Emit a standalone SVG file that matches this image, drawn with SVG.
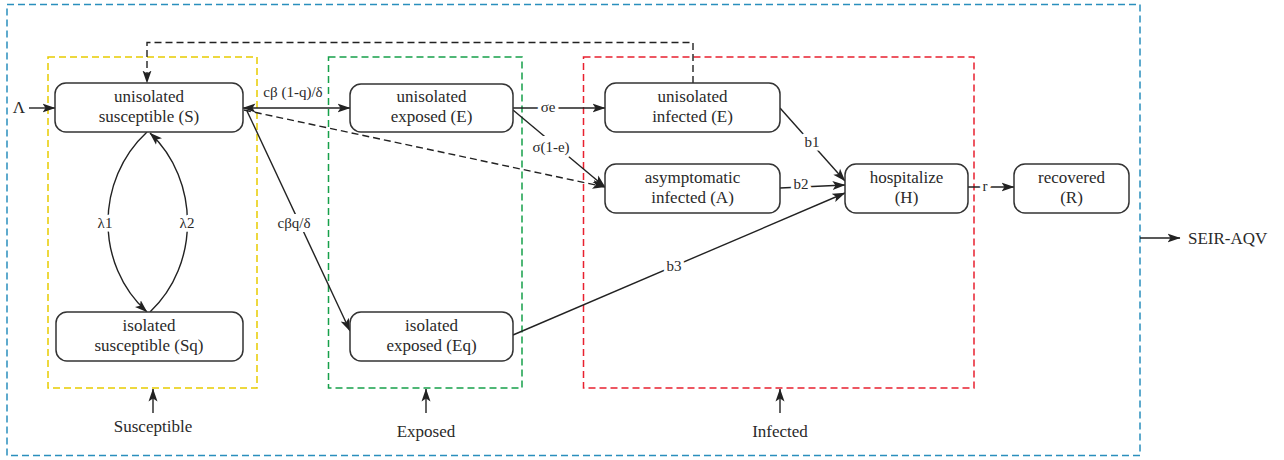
<svg xmlns="http://www.w3.org/2000/svg" width="1284" height="460" viewBox="0 0 1284 460">
<defs>
<marker id="ah" markerUnits="userSpaceOnUse" markerWidth="13" markerHeight="10" viewBox="0 0 13 10" refX="12.5" refY="5" orient="auto-start-reverse">
<path d="M0,0.5 L13,5 L0,9.5 L3,5 z" fill="#222"/>
</marker>
<style>
.grp{fill:none;stroke-width:1.5;stroke-dasharray:7 4}
.node rect{fill:#fff;stroke:#333;stroke-width:1.5}
text{font-family:'Liberation Serif','Times New Roman','DejaVu Serif',serif;fill:#2a2a2a;text-anchor:middle}
.node text{font-size:17px}
.ln{fill:none;stroke:#222;stroke-width:1.4}
.dash{stroke-dasharray:7 4}
.lbl{font-size:15px;stroke:#fff;stroke-width:7px;paint-order:stroke;stroke-linejoin:round}
.cap{font-size:17px}
</style>
</defs>
<rect width="1284" height="460" fill="#fff"/>
<g id="groups">
<rect class="grp" x="7" y="4.5" width="1133" height="451" stroke="#2a8fbd"/>
<rect class="grp" x="48" y="57" width="209" height="331" stroke="#e8cc00"/>
<rect class="grp" x="328.5" y="57" width="193.5" height="331" stroke="#16a04a"/>
<rect class="grp" x="583.5" y="57" width="390.5" height="331" stroke="#e8202f"/>
</g>
<g id="connectors">
<path class="ln" d="M29,108 L55,108" marker-end="url(#ah)"/>
<path class="ln" d="M243,108 L350,108" marker-start="url(#ah)" marker-end="url(#ah)"/>
<path class="ln dash" d="M244,110 L605,187" marker-end="url(#ah)"/>
<path class="ln" d="M247,111 L350,331" marker-end="url(#ah)"/>
<path class="ln" d="M513,108 L605,108" marker-end="url(#ah)"/>
<path class="ln" d="M513,110 L605,187" marker-end="url(#ah)"/>
<path class="ln" d="M780,108 L845,181" marker-end="url(#ah)"/>
<path class="ln" d="M780,188 L845,185" marker-end="url(#ah)"/>
<path class="ln" d="M513,335 L845,193" marker-end="url(#ah)"/>
<path class="ln" d="M968,187 L1014,187" marker-end="url(#ah)"/>
<path class="ln dash" d="M693,83 L693,42.5 L147,42.5 L147,83" marker-end="url(#ah)"/>
<path class="ln" d="M147,132 C95,180 95,265 147,312" marker-end="url(#ah)"/>
<path class="ln" d="M150,312 C200,265 200,180 150,133" marker-end="url(#ah)"/>
<path class="ln" d="M1140,238 L1180,238" marker-end="url(#ah)"/>
<path class="ln" d="M153,413 L153,389" marker-end="url(#ah)"/>
<path class="ln" d="M426,413 L426,389" marker-end="url(#ah)"/>
<path class="ln" d="M780,413 L780,389" marker-end="url(#ah)"/>
<rect x="529" y="136" width="45" height="20" fill="#fff"/>
<rect x="274" y="214" width="40" height="18" fill="#fff"/>
<text class="lbl" x="19" y="113" style="font-size:17px">Λ</text>
<text class="lbl" x="293" y="97">cβ (1-q)/δ</text>
<text class="lbl" x="294" y="228">cβq/δ</text>
<text class="lbl" x="548" y="112">σe</text>
<text class="lbl" x="551" y="152">σ(1-e)</text>
<text class="lbl" x="812" y="147">b1</text>
<text class="lbl" x="801" y="189">b2</text>
<text class="lbl" x="674" y="271">b3</text>
<text class="lbl" x="985" y="191">r</text>
<text class="lbl" x="105" y="228">λ1</text>
<text class="lbl" x="187" y="228">λ2</text>
</g>
<g id="S" class="node"><rect x="55" y="83" width="188" height="49" rx="11"/><text x="149" y="102">unisolated</text><text x="149" y="122">susceptible (S)</text></g>
<g id="Sq" class="node"><rect x="56" y="312" width="187" height="49" rx="11"/><text x="149" y="331">isolated</text><text x="149" y="351">susceptible (Sq)</text></g>
<g id="E" class="node"><rect x="350" y="84" width="163" height="48" rx="11"/><text x="431.5" y="102">unisolated</text><text x="431.5" y="122">exposed (E)</text></g>
<g id="Eq" class="node"><rect x="350" y="312" width="163" height="49" rx="11"/><text x="431.5" y="331">isolated</text><text x="431.5" y="351">exposed (Eq)</text></g>
<g id="I" class="node"><rect x="605" y="83" width="175" height="49" rx="11"/><text x="692.5" y="102">unisolated</text><text x="692.5" y="122">infected (E)</text></g>
<g id="A" class="node"><rect x="605" y="164" width="175" height="49" rx="11"/><text x="692.5" y="183">asymptomatic</text><text x="692.5" y="203">infected (A)</text></g>
<g id="H" class="node"><rect x="845" y="164" width="123" height="49" rx="11"/><text x="906.5" y="183">hospitalize</text><text x="906.5" y="203">(H)</text></g>
<g id="R" class="node"><rect x="1014" y="164" width="115" height="49" rx="11"/><text x="1071.5" y="183">recovered</text><text x="1071.5" y="203">(R)</text></g>
<g id="captions">
<text class="cap" x="153" y="432">Susceptible</text>
<text class="cap" x="426" y="437">Exposed</text>
<text class="cap" x="780" y="437">Infected</text>
<text class="cap" x="1188" y="244" style="text-anchor:start">SEIR-AQV</text>
</g>
</svg>
